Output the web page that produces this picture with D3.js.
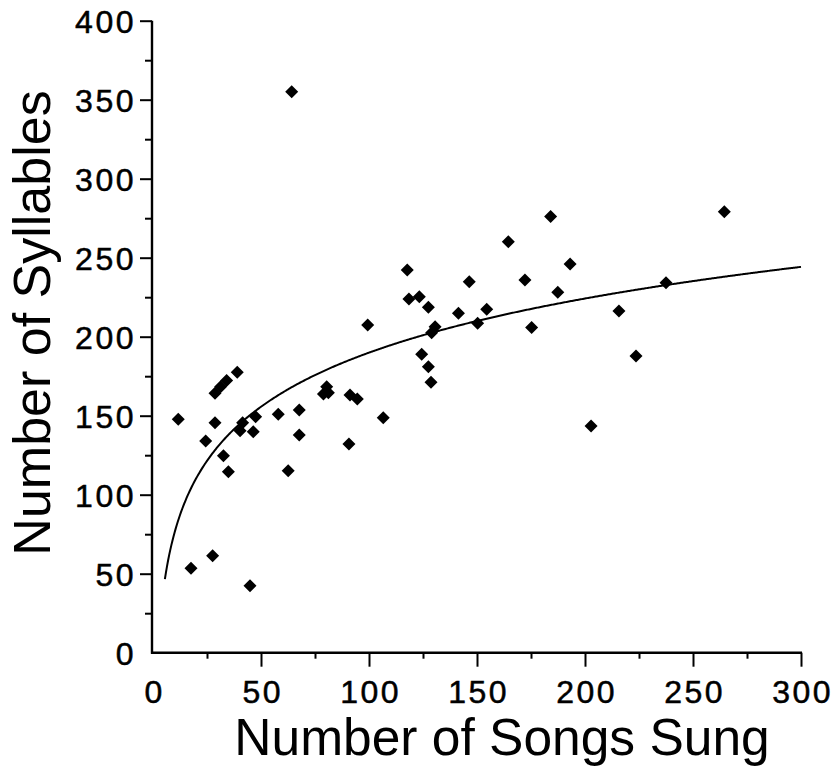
<!DOCTYPE html>
<html>
<head>
<meta charset="utf-8">
<script src="https://cdn.jsdelivr.net/npm/d3@7"></script>
<style>
  body { margin: 0; background: #fff; }
  svg { display: block; }
</style>
</head>
<body>
<script>
// songs sung vs syllables
const songs = [11.7, 17.6, 24.4, 27.6, 28.7, 28.7, 31.3, 34.1, 32.6, 34.9,
  39.0, 40.3, 41.5, 44.9, 46.4, 47.5, 58.0, 62.6, 64.2, 67.7,
  67.7, 78.9, 80.4, 81.2, 90.7, 91.2, 94.6, 99.4, 106.6, 117.7,
  118.5, 123.3, 124.4, 127.5, 127.5, 128.7, 129.0, 130.6, 141.4, 146.4,
  150.3, 154.5, 164.5, 172.2, 175.3, 184.1, 187.4, 193.1, 202.8, 215.7,
  223.6, 237.5, 264.5]
const syllables = [147.7, 53.4, 134, 61.4, 145.6, 164.2, 168.4, 172.2, 124.7, 114.6,
  177.5, 140.5, 145.6, 42.4, 139.9, 149.4, 150.9, 115.2, 355, 153.6,
  137.8, 163.7, 168.4, 164.6, 132.1, 163.1, 160.6, 207.4, 148.7, 242.2,
  223.9, 225.3, 188.9, 218.6, 181, 171.1, 202.5, 206.3, 214.8, 234.8,
  208.5, 217.3, 260.1, 235.9, 205.9, 276, 228.1, 246, 143.5, 216.3,
  187.8, 234.2, 279.1]

const xTicks = [0, 50, 100, 150, 200, 250, 300]
const yTicks = [0, 50, 100, 150, 200, 250, 300, 350, 400]
const xMinor = [25, 75, 125, 175, 225, 275]
const yMinor = [25, 75, 125, 175, 225, 275, 325, 375]
const curveStart = 5.5   // where the fitted curve begins on the x axis

const width = 837, height = 784
const margin = {left: 153, right: 36, top: 20.7, bottom: 131.3}

const svg = d3.select('body').append('svg')
  .attr('width', width)
  .attr('height', height)

const x = d3.scaleLinear()
  .domain([0, 300])
  .range([margin.left, width - margin.right])

const y = d3.scaleLinear()
  .domain([0, 400])
  .range([height - margin.bottom, margin.top])

const points = songs.map((s, i) => ({x: s, y: syllables[i]}))

// log fit: syllables = a + b * ln(songs)
const lx = points.map(d => Math.log(d.x))
const mx = d3.mean(lx), my = d3.mean(points, d => d.y)
const b = d3.sum(points, (d, i) => (lx[i] - mx) * (d.y - my)) / d3.sum(lx, v => (v - mx) * (v - mx))
const a = my - b * mx

const tickFont = g => g.selectAll('text')
  .attr('font-family', 'Liberation Sans, Arial, sans-serif')
  .attr('font-size', 32)
  .attr('letter-spacing', 2.5)
  .attr('fill', '#000')
  .attr('stroke', '#000')
  .attr('stroke-width', 0.5)

// minor ticks first, majors on top
svg.append('g')
  .attr('transform', `translate(0,${y(0)})`)
  .call(d3.axisBottom(x).tickValues(xMinor).tickSize(6).tickFormat(''))
  .call(g => g.select('.domain').remove())
  .call(g => g.selectAll('line').attr('stroke-width', 2))

svg.append('g')
  .attr('transform', `translate(${x(0) - 1},0)`)
  .call(d3.axisLeft(y).tickValues(yMinor).tickSize(7).tickFormat(''))
  .call(g => g.select('.domain').remove())
  .call(g => g.selectAll('line').attr('stroke-width', 2))

svg.append('g')
  .attr('transform', `translate(0,${y(0)})`)
  .call(d3.axisBottom(x).tickValues(xTicks).tickSize(14).tickSizeOuter(0).tickPadding(3))
  .call(g => g.select('.domain').attr('stroke-width', 2.4).attr('d', `M${x(0) - 2},0H${x(300) + 1}`))
  .call(g => g.selectAll('line').attr('stroke-width', 2))
  .call(g => g.selectAll('.tick').filter(d => d == 0).select('line').remove())
  .call(tickFont)
  .call(g => g.selectAll('text').attr('dy', '1.05em').attr('dx', 1.2))

svg.append('g')
  .attr('transform', `translate(${x(0) - 1},0)`)
  .call(d3.axisLeft(y).tickValues(yTicks).tickSize(12).tickSizeOuter(0).tickPadding(4))
  .call(g => g.select('.domain').attr('stroke-width', 2.4).attr('d', `M0,${y(0) + 1}V${y(400)}`))
  .call(g => g.selectAll('line').attr('stroke-width', 2))
  .call(g => g.selectAll('.tick').filter(d => d == 0).select('line').remove())
  .call(tickFont)
  .call(g => g.selectAll('text').attr('dy', '0.36em'))

// fitted curve
const curveX = d3.range(curveStart, 300.01, 0.5)
svg.append('path')
  .datum(curveX)
  .attr('fill', 'none')
  .attr('stroke', '#000')
  .attr('stroke-width', 2)
  .attr('d', d3.line().x(d => x(d)).y(d => y(a + b * Math.log(d))))

// diamonds
svg.append('g')
  .selectAll('path')
  .data(points)
  .join('path')
  .attr('transform', d => `translate(${x(d.x)},${y(d.y)})`)
  .attr('d', 'M0,-6.5L6.5,0L0,6.5L-6.5,0Z')
  .attr('fill', '#000')

// axis titles
svg.append('text')
  .attr('x', 502)
  .attr('y', 755)
  .attr('text-anchor', 'middle')
  .attr('font-family', 'Liberation Sans, Arial, sans-serif')
  .attr('font-size', 51.5)
  .text('Number of Songs Sung')

svg.append('text')
  .attr('transform', 'translate(50,323) rotate(-90)')
  .attr('text-anchor', 'middle')
  .attr('font-family', 'Liberation Sans, Arial, sans-serif')
  .attr('font-size', 52)
  .text('Number of Syllables')
</script>
</body>
</html>
